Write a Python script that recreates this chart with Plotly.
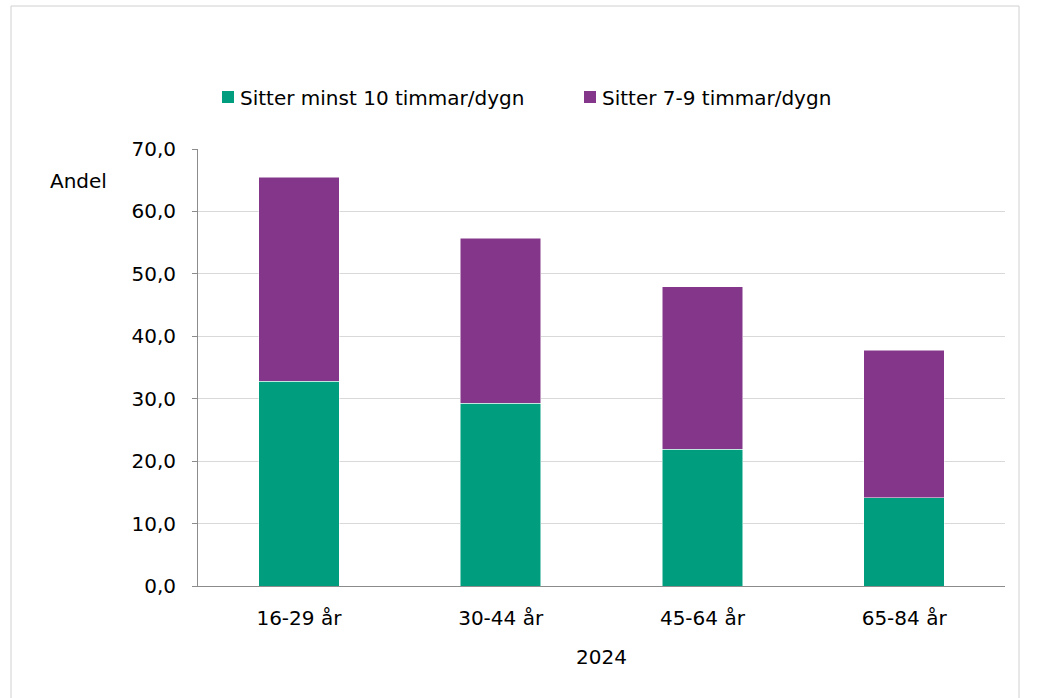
import plotly.graph_objects as go

categories = ["16-29 år", "30-44 år", "45-64 år", "65-84 år"]
minst10 = [32.8, 29.3, 21.9, 14.1]
sju_nio = [32.7, 26.4, 26.0, 23.7]
series_names = ["Sitter minst 10 timmar/dygn", "Sitter 7-9 timmar/dygn"]
series_colors = ["#009E7E", "#84378A"]
y_ticks = [0, 10, 20, 30, 40, 50, 60, 70]
y_tick_labels = ["0,0", "10,0", "20,0", "30,0", "40,0", "50,0", "60,0", "70,0"]

FONT = "DejaVu Sans"
FS = 20
L, R, T, B = 198, 1005, 149, 586
PW, PH = R - L, B - T


def px(x):
    return (x - L) / PW


def py(y):
    return 1 - (y - T) / PH


fig = go.Figure()
for vals, name, col in zip([minst10, sju_nio], series_names, series_colors):
    fig.add_trace(go.Bar(x=categories, y=vals, name=name,
                         marker=dict(color=col, line=dict(color="white", width=0.5))))

shapes = [dict(type="rect", xref="paper", yref="paper",
               x0=px(11), x1=px(1019), y0=py(712), y1=py(6),
               line=dict(color="#d0d0d0", width=1), fillcolor="rgba(0,0,0,0)", layer="below")]
annotations = [dict(text="Andel", xref="paper", yref="paper",
                    x=px(48), xanchor="left", y=py(181), yanchor="middle",
                    showarrow=False, font=dict(size=FS))]
# legend (manual, to match spacing)
legend_x = [222, 584]
for lx, name, col in zip(legend_x, series_names, series_colors):
    shapes.append(dict(type="rect", xref="paper", yref="paper",
                       x0=px(lx), x1=px(lx + 12), y0=py(103), y1=py(91),
                       line=dict(width=0), fillcolor=col))
    annotations.append(dict(text=name, xref="paper", yref="paper",
                            x=px(lx + 16), xanchor="left", y=py(98), yanchor="middle",
                            showarrow=False, font=dict(size=FS)))

fig.update_layout(
    width=1040, height=698,
    barmode="stack", bargap=0.6,
    paper_bgcolor="white", plot_bgcolor="white",
    margin=dict(l=L, r=1040 - R, t=T, b=698 - B),
    font=dict(family=FONT, size=FS, color="#000000"),
    showlegend=False,
    xaxis=dict(showline=True, linecolor="#8c8c8c", linewidth=1, ticks="", showgrid=False,
               tickfont=dict(size=FS), ticklabelstandoff=14,
               title=dict(text="2024", font=dict(size=FS), standoff=20)),
    yaxis=dict(range=[0, 70], tickvals=y_ticks, ticktext=y_tick_labels,
               showline=True, linecolor="#8c8c8c", linewidth=1,
               ticks="outside", ticklen=5, tickcolor="#8c8c8c",
               showgrid=True, gridcolor="#d9d9d9", gridwidth=1,
               tickfont=dict(size=FS), zeroline=False, ticklabelstandoff=12),
    shapes=shapes,
    annotations=annotations,
)
fig.write_html("out.html", config={"displayModeBar": False},
               post_script="document.body.style.margin='0px';")
